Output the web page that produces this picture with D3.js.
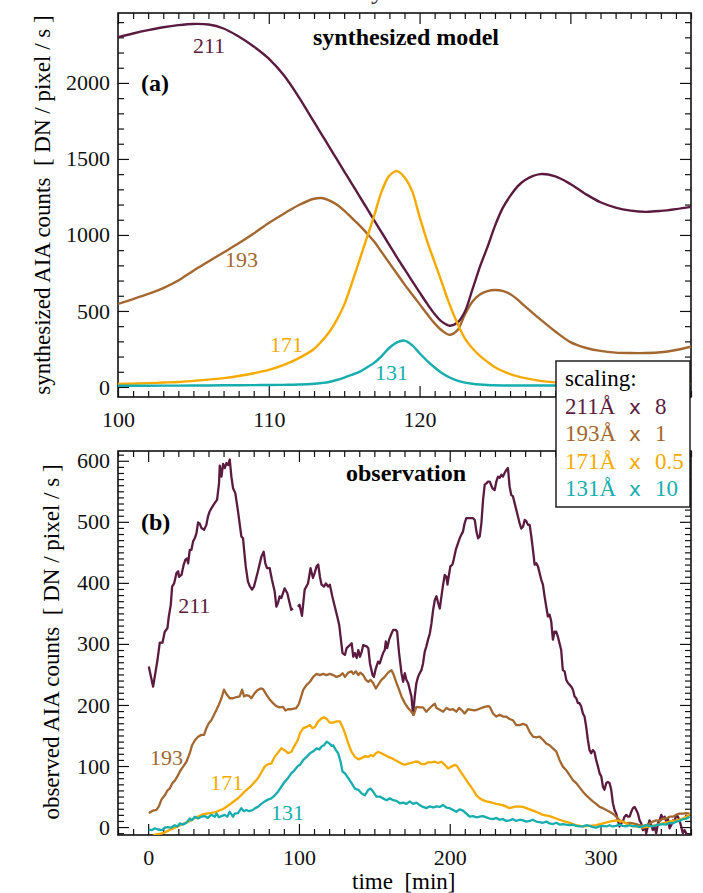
<!DOCTYPE html>
<html>
<head>
<meta charset="utf-8">
<script src="https://cdn.jsdelivr.net/npm/d3@7"></script>
<style>
  body { margin: 0; background: #fff; }
  svg { display: block; font-family: "Liberation Serif", "Times New Roman", serif; }
</style>
</head>
<body>
<div id="chart"></div>
<script>
// ---- data: synthesized model (panel a) ----
const tModel = [100,101,102,103,104,105,106,107,108,109,110,111,112,113,
  113.5,114,114.5,115,115.5,116,116.5,117,117.5,118,118.5,119,119.5,120,120.5,121,121.5,122,122.5,123,123.5,124,124.5,125,125.5,126,126.5,127,
  128,129,130,131,132,133,134,135,136,137,138];
const model211 = [2300,2325,2347,2366,2380,2388,2384,2358,2305,2240,2160,2050,1905,1743,
  1662,1581,1500,1419,1338,1257,1176,1095,1014,933,852,775,698,622,548,480,428,403,422,495,640,790,920,1060,1175,1255,1320,1362,
  1400,1385,1335,1270,1215,1180,1160,1152,1158,1170,1185];
const model193 = [546,578,612,650,700,765,825,885,945,1010,1079,1140,1197,1238,
  1243,1228,1200,1160,1112,1065,1012,955,885,815,745,675,610,545,480,418,370,343,372,475,560,608,630,638,632,612,575,530,
  445,365,295,258,237,226,223,223,228,243,265];
const model171 = [20,22,25,29,33,40,48,58,72,90,112,145,190,250,
  300,360,440,540,680,830,980,1130,1290,1390,1420,1380,1290,1120,960,820,680,540,420,320,255,205,165,130,105,85,70,58,
  40,30,25,22,21,20,20,20,20,20,20];
const model131 = [8,8,8,9,9,10,10,11,11,12,13,14,16,21,
  26,33,46,62,80,99,128,160,205,258,293,305,275,222,172,128,90,62,42,29,21,16,13,11,10,10,10,10,
  10,10,10,10,10,10,10,10,10,10,10];

// ---- data: observation (panel b), [time, counts] ----
const obs211 = [[0.4,263],[3.3,230],[6.2,274],[7.7,302],[9.5,302],[11.0,320],[12.8,326],[13.7,345],[15.0,364],[15.9,394],[17.2,399],[18.8,416],[19.9,419],[20.5,410],[22.1,413],[23.6,430],[24.7,438],[25.8,440],[26.5,432],[27.6,454],[28.7,454],[29.8,468],[30.9,473],[32.0,481],[33.1,499],[34.2,497],[35.3,490],[37.1,487],[38.6,495],[39.7,509],[40.8,517],[41.9,522],[44.2,531],[45.7,536],[47.0,563],[47.5,592],[48.6,574],[49.7,595],[50.8,588],[51.9,596],[53.0,593],[54.1,602],[55.2,574],[56.3,555],[57.8,547],[59.6,517],[61.8,476],[62.9,473],[64.7,427],[66.2,402],[67.3,395],[68.9,389],[70.2,394],[72.8,419],[75.1,443],[76.6,451],[77.7,432],[78.8,424],[80.6,424],[82.1,405],[83.9,386],[85.0,361],[86.1,367],[87.2,378],[88.3,375],[90.5,391],[92.3,383],[93.8,367],[94.9,356],[96.0,358],[97.6,null],[99.3,361],[100.4,364],[102.0,346],[103.8,389],[106.0,399],[107.7,424],[109.3,408],[110.4,416],[111.7,427],[112.8,430],[113.9,410],[115.0,397],[116.6,394],[117.9,399],[119.4,394],[120.5,397],[122.1,378],[123.8,361],[125.4,345],[126.7,331],[127.6,312],[128.9,285],[130.5,282],[131.6,293],[133.8,298],[135.0,301],[136.0,279],[137.1,285],[138.3,277],[139.4,290],[140.5,279],[141.6,287],[142.6,298],[144.9,296],[146.0,293],[147.1,268],[148.8,249],[149.7,246],[151.0,260],[152.5,271],[153.6,268],[154.7,277],[155.8,285],[156.9,290],[157.6,304],[158.5,293],[159.8,307],[161.4,317],[162.5,323],[164.2,323],[165.1,320],[166.4,285],[168.0,252],[169.1,238],[170.2,252],[171.3,241],[172.4,236],[173.5,225],[174.6,214],[175.7,184],[176.8,214],[177.9,236],[179.0,246],[180.1,252],[181.2,257],[182.3,268],[183.4,287],[184.5,296],[185.6,307],[186.8,317],[187.9,334],[189.0,356],[190.1,372],[191.2,378],[192.3,367],[193.4,358],[194.5,378],[195.6,397],[196.7,413],[197.8,410],[198.5,397],[199.3,410],[200.4,427],[201.8,430],[202.6,438],[204.0,454],[205.5,465],[206.6,473],[207.7,479],[208.8,484],[209.9,498],[211.0,506],[213.2,506],[215.5,506],[216.6,503],[217.7,484],[218.8,473],[219.9,476],[221.0,498],[222.1,536],[223.2,561],[224.3,563],[225.4,566],[226.5,566],[228.3,555],[229.8,552],[230.9,566],[232.0,574],[233.1,572],[234.2,577],[235.3,574],[236.4,580],[237.5,585],[238.6,588],[239.7,558],[240.8,544],[241.9,542],[243.0,531],[244.1,520],[245.2,509],[246.3,498],[247.4,489],[248.6,492],[249.7,503],[250.8,501],[251.9,495],[253.0,495],[254.1,476],[255.2,454],[256.3,430],[257.4,432],[258.5,427],[259.6,416],[260.7,405],[261.8,397],[262.9,378],[264.0,361],[265.1,345],[266.2,348],[267.3,337],[268.4,307],[269.5,320],[270.6,320],[271.7,312],[272.8,301],[273.9,290],[275.0,257],[276.2,255],[277.3,241],[278.4,236],[279.5,233],[280.6,230],[281.7,225],[282.8,214],[283.9,211],[285.0,203],[286.1,203],[287.2,197],[288.3,186],[289.4,181],[290.5,164],[291.6,143],[292.7,126],[293.8,121],[294.9,126],[296.0,123],[297.1,110],[298.3,99],[299.4,88],[300.5,83],[301.6,66],[302.6,61],[303.8,72],[304.9,74],[306.0,72],[307.1,61],[308.2,39],[309.3,28],[310.4,22],[311.5,11],[312.6,1],[313.7,6],[314.8,9],[315.9,17],[317.1,20],[318.2,17],[319.3,17],[320.4,25],[321.5,31],[322.6,33],[323.7,28],[324.8,22],[325.9,11],[327.0,6],[328.1,-5],[329.2,1],[330.3,-10],[331.4,1],[332.5,11],[333.6,3],[334.7,-5],[335.8,1],[336.9,-10],[338.1,6],[339.2,11],[340.3,20],[341.4,14],[342.5,17],[343.6,9],[344.7,14],[345.8,-2],[346.9,3],[348.0,11],[349.1,9],[350.2,20],[351.3,17],[352.4,11],[353.5,1],[354.6,-10],[355.7,-5],[356.8,-10],[357.9,-16]];

const obs193 = [[0.4,23],[3.3,27],[5.5,28],[7.1,34],[8.8,45],[11.0,52],[12.8,60],[14.3,63],[16.1,72],[17.7,76],[19.4,83],[21.0,91],[23.2,99],[25.4,107],[27.6,121],[29.1,134],[31.3,143],[33.1,148],[35.3,151],[37.1,151],[38.6,162],[40.2,170],[41.9,175],[43.7,184],[45.3,192],[46.8,200],[48.6,211],[50.3,225],[51.9,218],[54.1,211],[56.3,211],[58.5,213],[60.7,214],[62.3,225],[63.6,214],[65.1,216],[66.9,215],[68.4,211],[70.6,219],[72.4,224],[74.6,227],[76.2,226],[78.4,217],[80.6,209],[82.8,203],[85.0,198],[87.2,196],[89.4,197],[91.0,191],[92.7,193],[94.9,193],[98.2,195],[100.0,202],[101.5,214],[102.9,225],[105.1,233],[107.3,238],[109.5,246],[111.7,251],[113.9,249],[116.1,251],[118.3,249],[120.5,251],[122.7,249],[124.9,246],[127.2,248],[128.9,252],[130.5,246],[132.7,253],[134.9,255],[136.0,251],[137.8,255],[139.4,249],[140.8,253],[142.6,249],[144.4,241],[146.0,238],[147.5,241],[149.2,236],[151.0,227],[152.5,233],[154.7,241],[156.9,246],[159.1,253],[161.4,257],[162.9,249],[164.7,236],[166.4,225],[168.0,214],[170.2,203],[172.4,195],[174.6,189],[176.2,184],[177.9,197],[180.1,196],[182.3,196],[184.5,189],[186.8,195],[189.0,200],[190.1,202],[191.2,195],[193.4,192],[195.6,189],[197.8,195],[200.0,192],[202.2,193],[204.4,189],[206.2,195],[207.7,192],[209.9,186],[212.1,193],[214.3,192],[216.6,191],[219.0,193],[221.0,195],[223.2,197],[225.4,198],[226.5,197],[228.7,186],[230.9,181],[233.1,184],[235.3,181],[237.5,181],[239.7,177],[241.9,175],[244.1,167],[246.3,167],[248.6,169],[250.8,167],[253.0,156],[255.2,148],[257.4,147],[259.6,148],[261.8,143],[264.0,137],[266.2,134],[268.4,129],[270.6,124],[272.8,110],[275.0,99],[277.3,93],[279.5,85],[281.7,77],[283.9,72],[286.1,65],[288.3,58],[290.5,52],[292.7,47],[294.9,42],[297.1,38],[299.4,33],[301.6,31],[303.8,28],[306.0,25],[308.2,22],[310.4,17],[312.6,11],[314.8,9],[317.1,6],[319.3,7],[321.5,6],[323.7,5],[325.9,3],[328.1,2],[330.3,3],[332.5,6],[334.7,9],[336.9,11],[339.2,10],[341.4,14],[343.6,14],[345.8,17],[348.0,17],[350.2,20],[352.4,22],[354.6,22],[356.8,23],[359.1,22]];

const obs171 = [[0.0,-25],[4.0,-13],[9.9,-10],[14.0,-5],[18.8,0],[23.0,5],[27.6,10],[32.0,16],[36.4,21],[41.0,23],[45.3,25],[50.0,30],[55.2,39],[60.0,48],[64.0,58],[68.5,68],[72.8,80],[77.3,99],[79.5,103],[81.7,104],[83.9,115],[86.1,122],[88.3,129],[90.5,126],[92.7,121],[94.9,123],[97.0,133],[99.3,143],[100.7,154],[102.9,162],[105.1,164],[107.3,167],[109.0,162],[110.6,164],[112.8,173],[115.0,178],[116.6,180],[118.4,177],[120.5,171],[122.7,171],[124.9,173],[127.2,173],[128.9,164],[130.5,154],[132.7,137],[134.9,123],[137.1,115],[139.4,111],[141.6,113],[143.7,116],[146.0,115],[147.5,118],[149.2,116],[151.0,121],[152.5,123],[154.7,121],[156.9,118],[159.1,115],[161.4,113],[163.6,110],[165.8,107],[168.0,104],[170.2,102],[172.4,104],[174.6,105],[176.8,107],[179.0,107],[181.2,103],[183.4,103],[185.6,106],[187.9,106],[190.1,107],[192.3,105],[194.5,107],[196.7,102],[198.9,96],[201.1,99],[203.3,102],[204.9,100],[206.6,93],[208.8,85],[211.0,77],[213.2,69],[215.5,61],[217.7,52],[219.9,47],[222.1,44],[224.3,42],[226.5,41],[230.9,38],[235.3,36],[239.7,31],[244.1,34],[248.6,33],[253.0,29],[257.4,25],[261.8,20],[266.2,18],[270.6,14],[275.0,10],[279.5,7],[283.9,3],[288.3,1],[292.7,2],[297.1,3],[301.6,6],[306.0,9],[310.4,11],[314.8,9],[319.3,3],[323.7,1],[328.1,-1],[332.5,1],[336.9,3],[341.4,6],[345.8,9],[350.2,11],[354.6,14],[359.1,20]];

const obs131 = [[0.4,-4],[2.5,-5],[4.4,-2],[6.5,-4],[9.3,-5],[11.0,-1],[12.8,0],[15.0,-1],[17.7,3],[19.5,1],[21.0,6],[23.0,4],[25.4,7],[27.6,14],[29.0,11],[30.9,17],[33.0,14],[35.3,17],[37.5,18],[39.5,15],[41.9,20],[44.2,17],[45.3,22],[47.0,16],[48.6,18],[50.8,20],[52.5,17],[54.1,25],[56.3,17],[57.4,22],[59.6,23],[61.8,31],[63.5,26],[65.1,28],[67.0,26],[69.5,28],[71.0,31],[72.8,33],[75.0,38],[77.3,42],[79.5,45],[81.7,47],[84.0,52],[86.1,58],[88.3,66],[90.5,74],[92.7,80],[94.9,88],[97.0,93],[99.3,100],[100.7,102],[102.9,110],[105.1,115],[107.3,121],[109.5,124],[111.7,129],[113.5,127],[115.0,132],[116.6,134],[118.4,140],[120.1,137],[121.7,133],[122.7,134],[124.5,126],[126.0,121],[127.6,107],[128.9,91],[130.5,88],[132.7,80],[134.9,72],[137.1,63],[139.4,61],[141.6,55],[143.7,52],[146.0,61],[147.5,63],[149.2,58],[151.4,50],[153.6,50],[155.8,47],[158.1,44],[160.3,47],[162.5,44],[164.7,43],[166.9,39],[169.1,40],[171.3,38],[173.5,42],[175.7,38],[177.9,40],[180.1,36],[182.3,33],[184.5,31],[186.8,34],[189.0,32],[191.2,34],[193.4,33],[195.6,36],[197.8,32],[200.0,31],[202.2,28],[204.4,25],[206.6,29],[208.8,27],[211.0,22],[213.2,17],[215.5,18],[217.7,16],[219.9,17],[222.1,18],[224.3,16],[226.5,14],[228.7,13],[230.9,15],[233.0,12],[235.3,13],[237.5,10],[239.7,11],[242.0,13],[244.1,10],[246.5,12],[248.6,11],[251.0,9],[253.0,10],[255.0,12],[257.4,9],[259.5,8],[261.8,7],[264.0,9],[266.2,6],[268.5,5],[270.6,7],[273.0,4],[275.0,5],[277.0,4],[279.5,3],[281.5,4],[283.9,2],[286.0,1],[288.3,1],[290.5,3],[292.7,2],[295.0,0],[297.1,-1],[299.0,1],[301.6,2],[304.0,1],[306.0,3],[308.0,1],[310.4,2],[312.5,4],[314.8,2],[317.0,1],[319.3,3],[321.5,1],[323.7,2],[326.0,0],[328.1,1],[330.5,3],[332.5,2],[334.5,1],[336.9,3],[339.0,4],[341.4,5],[343.5,4],[345.8,7],[348.0,6],[350.2,9],[352.5,10],[354.6,13],[357.0,14],[359.1,17]];

// ---- ticks, labels ----
const topXTicks = [100, 110, 120, 130];
const topYTicks = [0, 500, 1000, 1500, 2000];
const botXTicks = [0, 100, 200, 300];
const botYTicks = [0, 100, 200, 300, 400, 500, 600];
const channels = ["211", "193", "171", "131"];
const scaleFactors = ["8", "1", "0.5", "10"];
const colors = {"211": "#5b1b40", "193": "#a3672f", "171": "#f6aa00", "131": "#17adae"};

const width = 703, height = 893;
const svg = d3.select("#chart").append("svg")
    .attr("width", width)
    .attr("height", height);

// clipped bit of the title above the figure
svg.append("text")
    .attr("x", 371).attr("y", -1)
    .style("font-size", "26px").style("fill", "#333")
    .text("y");

function makePanel(opts) {
    const g = svg.append("g").attr("transform", `translate(${opts.left},${opts.top})`);
    const w = opts.w, h = opts.h;
    const x = d3.scaleLinear().domain(opts.xDomain).range([0, w]);
    const y = d3.scaleLinear().domain(opts.yDomain).range([h, 0]);

    g.append("clipPath").attr("id", opts.id + "-clip")
        .append("rect").attr("width", w).attr("height", h);

    const ticks = (axis, tr, vals, size, labels, pad) => {
        const a = g.append("g").attr("transform", tr)
            .call(axis.tickValues(vals).tickSize(size).tickPadding(pad || 8)
                .tickFormat(labels ? d3.format("d") : ""));
        a.attr("font-family", null);
        a.select(".domain").remove();
        a.selectAll("line").attr("stroke", "#111").attr("stroke-width", 1.2);
        a.selectAll("text").style("font-size", "22px").attr("fill", "#111");
        return a;
    };

    // major + minor ticks on all four sides, pointing inward
    ticks(d3.axisBottom(x), `translate(0,${h})`, opts.xTicks, -11, true, 14);
    ticks(d3.axisBottom(x), `translate(0,${h})`, opts.xMinor, -6, false);
    ticks(d3.axisTop(x), "translate(0,0)", opts.xTicks, -11, false);
    ticks(d3.axisTop(x), "translate(0,0)", opts.xMinor, -6, false);
    ticks(d3.axisLeft(y), "translate(0,0)", opts.yTicks, -11, true, 8);
    ticks(d3.axisLeft(y), "translate(0,0)", opts.yMinor, -6, false);
    ticks(d3.axisRight(y), `translate(${w},0)`, opts.yTicks, -11, false);
    ticks(d3.axisRight(y), `translate(${w},0)`, opts.yMinor, -6, false);

    g.append("rect")
        .attr("width", w).attr("height", h)
        .attr("fill", "none").attr("stroke", "#111").attr("stroke-width", 1.6);

    const plot = g.append("g").attr("clip-path", `url(#${opts.id}-clip)`);
    return {g, x, y, plot};
}

// ---- panel (a) ----
const pa = makePanel({
    id: "pa", left: 118, top: 13, w: 573, h: 384,
    xDomain: [100, 138], yDomain: [-66, 2460],
    xTicks: topXTicks, xMinor: d3.range(100, 139, 1).filter(d => d % 10),
    yTicks: topYTicks, yMinor: d3.range(0, 2500, 100).filter(d => d % 500)
});

const modelSeries = {"211": model211, "193": model193, "171": model171, "131": model131};
const smoothLine = d3.line()
    .x((d, i) => pa.x(tModel[i]))
    .y(d => pa.y(d))
    .curve(d3.curveCatmullRom.alpha(0.5));

["193", "211", "171", "131"].forEach(ch => {
    pa.plot.append("path")
        .attr("d", smoothLine(modelSeries[ch]))
        .attr("fill", "none")
        .attr("stroke", colors[ch])
        .attr("stroke-width", 2.4);
});

// curve labels, anchored in data units
const labelsA = [["211", 104.97, 2197], ["193", 107.1, 789], ["171", 110.08, 230], ["131", 117.04, 46]];
pa.g.selectAll(".clabel").data(labelsA).enter().append("text")
    .attr("x", d => pa.x(d[1])).attr("y", d => pa.y(d[2]))
    .style("font-size", "22px").attr("fill", d => colors[d[0]])
    .text(d => d[0]);

pa.g.append("text").attr("x", 195).attr("y", 32)
    .style("font-size", "24px").style("font-weight", "bold")
    .text("synthesized model");
pa.g.append("text").attr("x", 23).attr("y", 78)
    .style("font-size", "24px").style("font-weight", "bold")
    .text("(a)");

svg.append("text")
    .attr("transform", "translate(50,205) rotate(-90)")
    .attr("text-anchor", "middle")
    .style("font-size", "23px")
    .text("synthesized AIA counts\u00a0 [ DN / pixel / s ]");

// ---- panel (b) ----
const pb = makePanel({
    id: "pb", left: 118, top: 451, w: 573, h: 384,
    xDomain: [-20, 360], yDomain: [-13, 616],
    xTicks: botXTicks, xMinor: d3.range(-20, 361, 10).filter(d => d % 100),
    yTicks: botYTicks, yMinor: d3.range(-10, 616, 10).filter(d => d % 100)
});

const obsSeries = {"211": obs211, "193": obs193, "171": obs171, "131": obs131};
const rawLine = d3.line()
    .defined(d => d[1] !== null)
    .x(d => pb.x(d[0]))
    .y(d => pb.y(d[1]));

["211", "193", "171", "131"].forEach(ch => {
    pb.plot.append("path")
        .attr("d", rawLine(obsSeries[ch]))
        .attr("fill", "none")
        .attr("stroke", colors[ch])
        .attr("stroke-width", 2.3)
        .attr("stroke-linejoin", "round");
});

const labelsB = [["211", 19.9, 351], ["193", 1.3, 102], ["171", 41.1, 61], ["131", 81.5, 11]];
pb.g.selectAll(".clabel").data(labelsB).enter().append("text")
    .attr("x", d => pb.x(d[1])).attr("y", d => pb.y(d[2]))
    .style("font-size", "22px").attr("fill", d => colors[d[0]])
    .text(d => d[0]);

pb.g.append("text").attr("x", 228).attr("y", 30)
    .style("font-size", "24px").style("font-weight", "bold")
    .text("observation");
pb.g.append("text").attr("x", 23).attr("y", 79)
    .style("font-size", "24px").style("font-weight", "bold")
    .text("(b)");

svg.append("text")
    .attr("transform", "translate(59,642) rotate(-90)")
    .attr("text-anchor", "middle")
    .style("font-size", "23px")
    .text("observed AIA counts\u00a0 [ DN / pixel / s ]");

svg.append("text")
    .attr("x", 352).attr("y", 889)
    .style("font-size", "23px")
    .text("time\u00a0 [min]");

// ---- scaling legend, over both panels ----
const legend = svg.append("g").attr("transform", "translate(556,361)");
legend.append("rect")
    .attr("width", 134).attr("height", 146)
    .attr("fill", "#fff").attr("stroke", "#111").attr("stroke-width", 1.4);
legend.append("text").attr("x", 9).attr("y", 25)
    .style("font-size", "23px").text("scaling:");
const rows = legend.selectAll(".row").data(channels).enter().append("g")
    .attr("transform", (d, i) => `translate(0,${53 + i * 27.3})`)
    .attr("fill", d => colors[d]);
rows.append("text").attr("x", 9).style("font-size", "23px").text(d => d + "Å");
rows.append("text").attr("x", 73)
    .style("font-family", "DejaVu Sans, sans-serif").style("font-size", "20px")
    .text("x");
rows.append("text").attr("x", 99).style("font-size", "23px")
    .text((d, i) => scaleFactors[i]);
</script>
</body>
</html>
